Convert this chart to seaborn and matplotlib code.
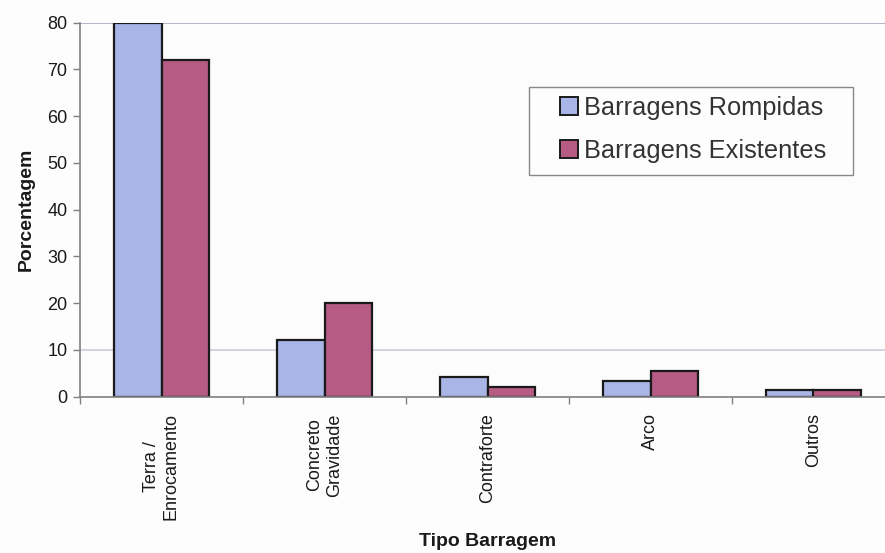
import matplotlib
matplotlib.use("Agg")
import matplotlib.pyplot as plt
from matplotlib.patches import Rectangle
import seaborn as sns
import pandas as pd
import numpy as np

# Dam types and failure/existing percentages
tipos = ["Terra /\nEnrocamento", "Concreto\nGravidade", "Contraforte", "Arco", "Outros"]
rompidas = [80, 12, 4.1, 3.3, 1.4]
existentes = [72, 20, 2.0, 5.5, 1.4]
series = ["Barragens Rompidas", "Barragens Existentes"]
yticks = [0, 10, 20, 30, 40, 50, 60, 70, 80]

df = pd.DataFrame({
    "Tipo": tipos * 2,
    "Serie": [series[0]] * len(tipos) + [series[1]] * len(tipos),
    "Valor": rompidas + existentes,
})

sns.set_theme(style="white")
plt.rcParams["font.family"] = ["Liberation Sans", "DejaVu Sans"]

W, H = 885, 553
fig = plt.figure(figsize=(W / 100, H / 100), dpi=100, facecolor="#fdfdfd")
ax = fig.add_axes([80 / W, 1 - 396.5 / H, 815 / W, (396.5 - 22.7) / H])
ax.set_facecolor("#fcfcfc")

palette = {series[0]: "#a9b5e6", series[1]: "#b65c84"}
sns.barplot(data=df, x="Tipo", y="Valor", hue="Serie", order=tipos,
            hue_order=series, palette=palette, width=0.58,
            edgecolor="#1a1a1a", linewidth=1.6, saturation=1, ax=ax)

ax.set_ylim(0, 80)
ax.set_xlim(-0.5, len(tipos) - 0.5)
ax.set_yticks(yticks)
ax.tick_params(axis="y", labelsize=13, length=5, width=1, color="#808080",
               direction="out", pad=4, left=True, labelcolor="#1a1a1a")

# category labels centred, separator ticks between categories
ax.set_xticks(range(len(tipos)))
ax.set_xticklabels(tipos, rotation=90, fontsize=13, color="#1a1a1a",
                   multialignment="center")
ax.tick_params(axis="x", length=0, pad=12)
ax.set_xticks(np.arange(-0.5, len(tipos)), minor=True)
ax.tick_params(axis="x", which="minor", length=5, width=1, color="#808080",
               direction="out", bottom=True)

for y, c in [(10, "#ccccdc"), (80, "#a8a8c0")]:
    ax.axhline(y, color=c, lw=1.2, zorder=0)

for s in ["top", "right"]:
    ax.spines[s].set_visible(False)
for s in ["left", "bottom"]:
    ax.spines[s].set_color("#808080")
    ax.spines[s].set_linewidth(1.2)

ax.set_ylabel("Porcentagem", fontsize=14, fontweight="bold", color="#1a1a1a",
              labelpad=9)
ax.set_xlabel("Tipo Barragem", fontsize=14, fontweight="bold", color="#1a1a1a",
              labelpad=9)

# legend box frame, drawn separately for its wide side margins
frame = Rectangle((529 / W, 1 - 175 / H), (853 - 529) / W, (175 - 87) / H,
                  transform=fig.transFigure, facecolor="#fdfdfd",
                  edgecolor="#888888", linewidth=1.0, zorder=5, clip_on=False)
ax.add_patch(frame)

leg = ax.legend(loc="upper left", bbox_to_anchor=(560 / W, 1 - 96 / H),
                bbox_transform=fig.transFigure, fontsize=18.3, frameon=False,
                handlelength=0.7, handleheight=0.7, handletextpad=0.25,
                borderpad=0.0, labelspacing=0.75, borderaxespad=0)
leg.set_zorder(6)
for t in leg.get_texts():
    t.set_color("#333333")
for h in leg.legend_handles:
    h.set_edgecolor("#1a1a1a")
    h.set_linewidth(1.4)

fig.savefig("out.png", dpi=100, facecolor=fig.get_facecolor())
